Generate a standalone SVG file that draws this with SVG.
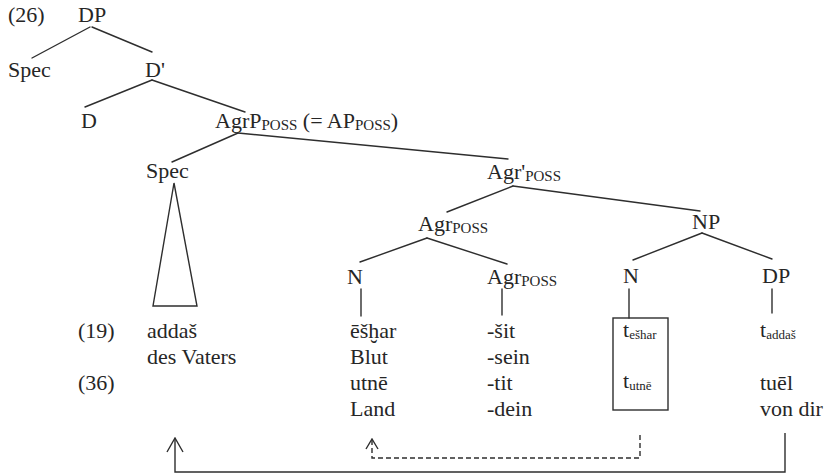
<svg xmlns="http://www.w3.org/2000/svg" width="826" height="475" viewBox="0 0 826 475">
  <style>
    text { font-family: "Liberation Serif", "Times New Roman", serif; font-size: 22px; fill: #262626; }
    .sc { font-size: 15px; }
    .sub { font-size: 13px; }
    .edge { stroke: #2e2e2e; stroke-width: 1.4; fill: none; stroke-linecap: round; }
    .move { stroke: #2e2e2e; stroke-width: 1.4; fill: none; }
    .dash { stroke-dasharray: 5 3; }
  </style>
  <defs>
    <!-- open arrowheads, drawn pointing along +x so orient="auto" turns them with the path -->
    <marker id="openHead" viewBox="0 0 16 18" refX="15" refY="9" markerWidth="16" markerHeight="18" markerUnits="userSpaceOnUse" orient="auto">
      <path d="M1,1 L15,9 L1,17" fill="none" stroke="#2e2e2e" stroke-width="1.4"/>
    </marker>
    <marker id="smallHead" viewBox="0 0 12 14" refX="11" refY="7" markerWidth="12" markerHeight="14" markerUnits="userSpaceOnUse" orient="auto">
      <path d="M1,1 L11,7 L1,13" fill="none" stroke="#2e2e2e" stroke-width="1.4"/>
    </marker>
  </defs>
  <rect width="826" height="475" fill="#ffffff"/>

  <!-- example number -->
  <text x="8" y="22">(26)</text>

  <!-- tree nodes -->
  <g id="dp-root"><text x="78" y="22">DP</text></g>
  <g id="spec-dp"><text x="8" y="77">Spec</text></g>
  <g id="d-bar"><text x="145" y="77">D'</text></g>
  <g id="d-head"><text x="81" y="128">D</text></g>
  <g id="agrp"><text x="215" y="128">AgrP<tspan class="sc" dy="2">POSS</tspan><tspan dy="-2"> (= AP</tspan><tspan class="sc" dy="2">POSS</tspan><tspan dy="-2">)</tspan></text></g>
  <g id="spec-agr">
    <text x="146" y="178">Spec</text>
    <path class="edge" d="M174,183 L153,306 L197,306 Z"/>
  </g>
  <g id="agr-bar"><text x="487" y="179">Agr'<tspan class="sc" dy="2">POSS</tspan></text></g>
  <g id="agr-head"><text x="418" y="231">Agr<tspan class="sc" dy="2">POSS</tspan></text></g>
  <g id="np"><text x="692" y="229">NP</text></g>
  <g id="n-left"><text x="347" y="284">N</text></g>
  <g id="agr-low"><text x="487" y="284">Agr<tspan class="sc" dy="2">POSS</tspan></text></g>
  <g id="n-right"><text x="623" y="283">N</text></g>
  <g id="dp-low"><text x="762" y="283">DP</text></g>

  <!-- lexical material -->
  <g id="row-labels">
    <text x="78" y="338">(19)</text>
    <text x="78" y="390">(36)</text>
  </g>
  <g id="possessor">
    <text x="147" y="338">addaš</text>
    <text x="147" y="364">des Vaters</text>
  </g>
  <g id="noun">
    <text x="350" y="338">ēšḫar</text>
    <text x="350" y="364">Blut</text>
    <text x="350" y="390">utnē</text>
    <text x="350" y="416">Land</text>
  </g>
  <g id="suffix">
    <text x="487" y="338">-šit</text>
    <text x="487" y="364">-sein</text>
    <text x="487" y="390">-tit</text>
    <text x="487" y="416">-dein</text>
  </g>
  <g id="noun-trace">
    <rect x="613" y="318" width="55" height="92" fill="none" stroke="#2e2e2e" stroke-width="1.4"/>
    <text x="623" y="337">t<tspan class="sub" dy="2">ešhar</tspan></text>
    <text x="623" y="388">t<tspan class="sub" dy="2">utnē</tspan></text>
  </g>
  <g id="dp-trace">
    <text x="760" y="337">t<tspan class="sub" dy="2">addaš</tspan></text>
    <text x="760" y="390">tuēl</text>
    <text x="760" y="416">von dir</text>
  </g>

  <!-- branches and movement paths -->
  <g id="connectors">
    <line class="edge" x1="90" y1="27" x2="32" y2="58"/>
    <line class="edge" x1="92" y1="27" x2="152" y2="52"/>
    <line class="edge" x1="152" y1="80" x2="85" y2="107"/>
    <line class="edge" x1="152" y1="80" x2="245" y2="112"/>
    <line class="edge" x1="238" y1="133" x2="172" y2="162"/>
    <line class="edge" x1="238" y1="133" x2="508" y2="159"/>
    <line class="edge" x1="513" y1="186" x2="447" y2="212"/>
    <line class="edge" x1="513" y1="186" x2="700" y2="211"/>
    <line class="edge" x1="427" y1="238" x2="360" y2="262"/>
    <line class="edge" x1="427" y1="238" x2="507" y2="264"/>
    <line class="edge" x1="702" y1="233" x2="633" y2="260"/>
    <line class="edge" x1="702" y1="233" x2="772" y2="259"/>
    <line class="edge" x1="361" y1="289" x2="361" y2="316"/>
    <line class="edge" x1="502" y1="289" x2="502" y2="315"/>
    <line class="edge" x1="629" y1="289" x2="629" y2="318"/>
    <line class="edge" x1="772" y1="289" x2="772" y2="313"/>
    <path class="move" d="M785,433 V472 H175 V438" marker-end="url(#openHead)"/>
    <path class="move dash" d="M640,435 V458 H372 V439" marker-end="url(#smallHead)"/>
  </g>
</svg>
